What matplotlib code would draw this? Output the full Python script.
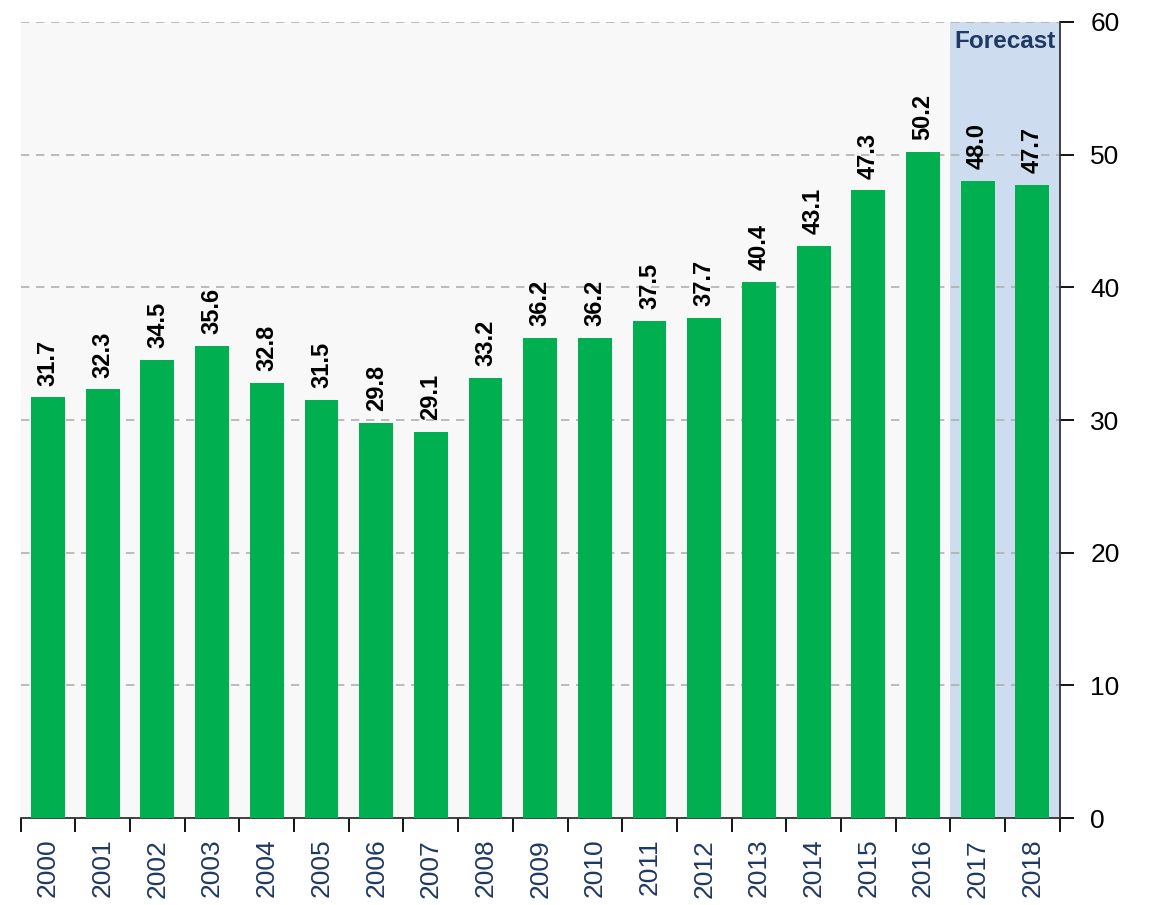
import numpy as np
import matplotlib.pyplot as plt

years = [str(y) for y in range(2000, 2019)]
values = [31.7, 32.3, 34.5, 35.6, 32.8, 31.5, 29.8, 29.1, 33.2, 36.2,
          36.2, 37.5, 37.7, 40.4, 43.1, 47.3, 50.2, 48.0, 47.7]
forecast_from = "2017"
yticks = [0, 10, 20, 30, 40, 50, 60]

plt.rcParams['font.family'] = ['Liberation Sans', 'DejaVu Sans']

fig = plt.figure(figsize=(11.53, 9.05), dpi=100)
ax = fig.add_axes([0.018, 0.0961, 0.901, 0.8796])
ax.set_facecolor('#f8f8f8')

x = np.arange(len(years))
fi = years.index(forecast_from)
ax.axvspan(fi - 0.5, len(years) - 0.5, color='#cddcee', zorder=0.5, lw=0)
ax.text((fi - 0.5 + len(years) - 0.5) / 2, 58.5, 'Forecast', ha='center', va='center',
        fontsize=17.5, fontweight='bold', color='#1f3864', zorder=4)

ax.bar(x, values, width=0.62, color='#00b050', zorder=3)
for xi, v in zip(x, values):
    ax.text(xi, v + 0.9, f'{v:.1f}', rotation=90, ha='center', va='bottom',
            fontsize=17, fontweight='bold', color='black', zorder=4)

ax.set_xlim(-0.5, len(years) - 0.5)
ax.set_ylim(0, 60)
ax.set_yticks(yticks)
ax.yaxis.tick_right()
ax.yaxis.grid(True, linestyle=(0, (5, 4)), color='#b0b0b0', lw=1.2, zorder=1)
ax.tick_params(axis='y', direction='out', length=10, width=1.3, pad=12,
               labelsize=19, colors='black')

ax.set_xticks(x)
ax.set_xticklabels(years, rotation=90, color='#1f3864', fontsize=19)
ax.set_xticks(np.arange(-0.5, len(years)), minor=True)
ax.tick_params(axis='x', which='major', length=0, pad=15)
ax.tick_params(axis='x', which='minor', direction='out', length=10, width=1.3)

for s in ['top', 'left']:
    ax.spines[s].set_visible(False)
for s in ['bottom', 'right']:
    ax.spines[s].set_color('#333333')
    ax.spines[s].set_linewidth(1.3)

fig.savefig('out.png', dpi=100)
